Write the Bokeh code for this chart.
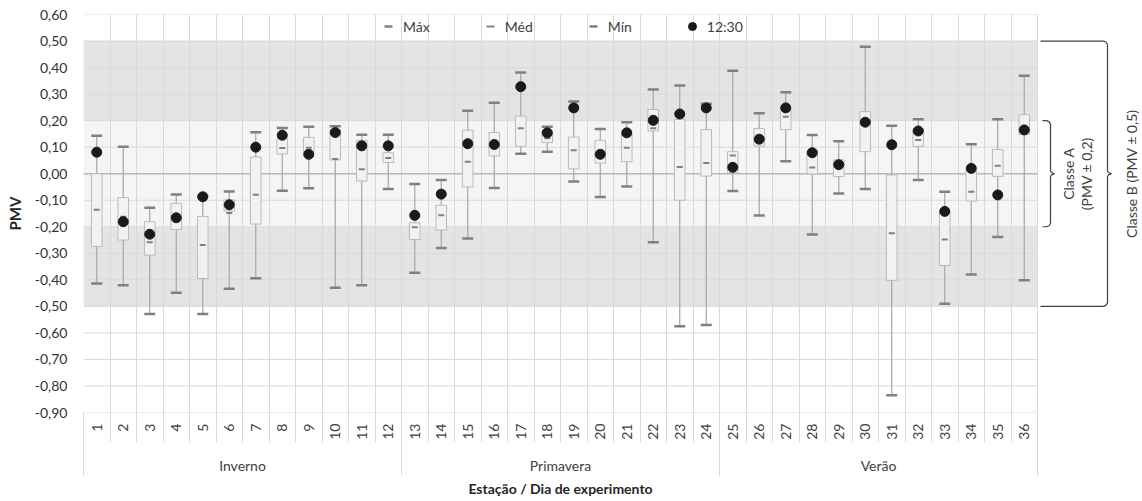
import math
from bokeh.plotting import figure
from bokeh.models import (ColumnDataSource, FixedTicker, BoxAnnotation, Legend,
                          LegendItem, Label, Range1d, LinearAxis)
from bokeh.embed import file_html
from bokeh.resources import INLINE

# ---------------- data ----------------
days = [str(i) for i in range(1, 37)]
seasons = ["Inverno", "Primavera", "Verão"]
max_v = [0.143, 0.102, -0.128, -0.078, -0.085, -0.067, 0.156, 0.172, 0.177, 0.179, 0.147, 0.147,
         -0.039, -0.024, 0.237, 0.267, 0.381, 0.177, 0.272, 0.168, 0.194, 0.317, 0.332, 0.264,
         0.388, 0.228, 0.307, 0.146, 0.122, 0.478, 0.181, 0.205, -0.068, 0.111, 0.205, 0.369]
q3_v = [0.000, -0.090, -0.181, -0.112, -0.161, -0.099, 0.063, 0.132, 0.137, 0.165, 0.126, 0.079,
        -0.185, -0.119, 0.164, 0.155, 0.217, 0.160, 0.138, 0.126, 0.149, 0.242, 0.205, 0.166,
        0.083, 0.170, 0.237, 0.085, 0.052, 0.234, -0.005, 0.170, -0.145, 0.010, 0.091, 0.222]
med_v = [-0.136, -0.162, -0.258, -0.160, -0.269, -0.148, -0.079, 0.097, 0.098, 0.055, 0.017, 0.059,
         -0.202, -0.157, 0.045, 0.110, 0.171, 0.134, 0.088, 0.075, 0.098, 0.171, 0.025, 0.040,
         0.069, 0.130, 0.215, 0.023, 0.030, 0.200, -0.224, 0.127, -0.248, -0.068, 0.030, 0.155]
q1_v = [-0.274, -0.250, -0.307, -0.210, -0.395, -0.140, -0.190, 0.074, 0.083, 0.052, -0.028, 0.042,
        -0.248, -0.212, -0.050, 0.067, 0.103, 0.117, 0.018, 0.040, 0.045, 0.161, -0.100, -0.009,
        0.003, 0.104, 0.166, -0.001, -0.011, 0.083, -0.402, 0.103, -0.346, -0.103, -0.010, 0.148]
min_v = [-0.414, -0.420, -0.529, -0.449, -0.529, -0.434, -0.394, -0.064, -0.055, -0.430, -0.420, -0.058,
         -0.373, -0.280, -0.244, -0.054, 0.075, 0.083, -0.029, -0.088, -0.048, -0.258, -0.575, -0.570,
         -0.065, -0.158, 0.047, -0.229, -0.075, -0.058, -0.835, -0.024, -0.490, -0.380, -0.239, -0.402]
v1230 = [0.081, -0.181, -0.228, -0.166, -0.087, -0.117, 0.100, 0.145, 0.073, 0.155, 0.105, 0.105,
         -0.157, -0.077, 0.113, 0.110, 0.328, 0.154, 0.248, 0.073, 0.154, 0.201, 0.225, 0.248,
         0.024, 0.130, 0.248, 0.079, 0.034, 0.194, 0.109, 0.161, -0.142, 0.020, -0.080, 0.165]
ytick_vals = [-0.9, -0.8, -0.7, -0.6, -0.5, -0.4, -0.3, -0.2, -0.1, 0.0, 0.1, 0.2, 0.3, 0.4, 0.5, 0.6]
ytick_labels = ["-0,90", "-0,80", "-0,70", "-0,60", "-0,50", "-0,40", "-0,30", "-0,20", "-0,10",
                "0,00", "0,10", "0,20", "0,30", "0,40", "0,50", "0,60"]
legend_labels = ["Máx", "Méd", "Mín", "12:30"]
x_title = "Estação / Dia de experimento"
class_a = ["Classe A", "(PMV ± 0,2)"]
class_b = "Classe B (PMV ± 0,5)"

# ---------------- layout ----------------
W, H = 1142, 501
FL, FR, FT, FB = 83, 1037, 14, 412        # plot area of the 36 days (px)
X0, X1 = 0.5, 36.5
Y0, Y1 = -0.9, 0.6
FONT = "Lato"
TXT = "#404040"
GRID = "#d9d9d9"


def px2x(px):
    return X0 + (px - FL) / (FR - FL) * (X1 - X0)


def px2y(py):
    return Y1 - (py - FT) / (FB - FT) * (Y1 - Y0)


def ypx(v):
    return FT + (Y1 - v) / (Y1 - Y0) * (FB - FT)


xs = list(range(1, 37))
src = ColumnDataSource(dict(x=xs, mx=max_v, q3=q3_v, med=med_v, q1=q1_v, mn=min_v, v=v1230))

# frame extended to the right edge so that the class braces can be drawn
p = figure(width=W, height=H, x_range=Range1d(X0, px2x(W)), y_range=Range1d(Y0, Y1),
           output_backend="svg", toolbar_location=None,
           min_border_left=FL, min_border_right=0, min_border_top=FT, min_border_bottom=H - FB)
p.outline_line_color = None
p.background_fill_color = "white"
p.border_fill_color = "white"

# comfort bands
p.add_layout(BoxAnnotation(left=X0, right=X1, bottom=0.2, top=0.5, fill_color="#e4e4e4", fill_alpha=1,
                           line_color=None, level="image"))
p.add_layout(BoxAnnotation(left=X0, right=X1, bottom=-0.5, top=-0.2, fill_color="#e4e4e4", fill_alpha=1,
                           line_color=None, level="image"))
p.add_layout(BoxAnnotation(left=X0, right=X1, bottom=-0.2, top=0.2, fill_color="#f5f5f5", fill_alpha=1,
                           line_color=None, level="image"))

# grids
p.xgrid.ticker = FixedTicker(ticks=[i + 0.5 for i in range(37)])
p.xgrid.grid_line_color = GRID
p.ygrid.grid_line_color = None
p.segment(x0=[X0] * len(ytick_vals), x1=[X1] * len(ytick_vals), y0=ytick_vals, y1=ytick_vals,
          line_color=GRID, line_width=1)
p.segment(x0=[X0], x1=[X1], y0=[0.0], y1=[0.0], line_color="#b8b8b8", line_width=1.5)

# box plot
p.segment(x0="x", y0="mn", x1="x", y1="mx", source=src, line_color="#a6a6a6", line_width=1.2)
p.vbar(x="x", width=0.4, bottom="q1", top="q3", source=src, fill_color="#f2f2f2",
       line_color="#bababa", line_width=1)
r_max = p.scatter(x="x", y="mx", source=src, marker="dash", size=11, line_color="#808080", line_width=2.5)
r_min = p.scatter(x="x", y="mn", source=src, marker="dash", size=11, line_color="#808080", line_width=2.5)
r_med = p.scatter(x="x", y="med", source=src, marker="dash", size=6, line_color="#808080", line_width=2)
r_dot = p.scatter(x="x", y="v", source=src, marker="circle", size=10, fill_color="#1a1a1a", line_color="#1a1a1a")

legend = Legend(items=[LegendItem(label=legend_labels[0], renderers=[r_max]),
                       LegendItem(label=legend_labels[1], renderers=[r_med]),
                       LegendItem(label=legend_labels[2], renderers=[r_min]),
                       LegendItem(label=legend_labels[3], renderers=[r_dot])],
                orientation="horizontal", location=(295, 376), border_line_color=None,
                background_fill_alpha=0, label_text_font=FONT, label_text_font_size="14px",
                label_text_color=TXT, glyph_width=20, glyph_height=20, label_height=20,
                label_standoff=5, spacing=50, padding=3, margin=0)
p.add_layout(legend)

# y axis
p.yaxis.ticker = FixedTicker(ticks=ytick_vals)
p.yaxis.major_label_overrides = dict(zip(ytick_vals, ytick_labels))
p.yaxis.axis_line_color = None
p.yaxis.major_tick_line_color = None
p.yaxis.minor_tick_line_color = None
p.yaxis.major_tick_out = 0
p.yaxis.major_label_standoff = 16
p.yaxis.major_label_text_font = FONT
p.yaxis.major_label_text_font_size = "14px"
p.yaxis.major_label_text_color = "#333333"
p.yaxis.axis_label = "PMV"
p.yaxis.axis_label_text_font = FONT
p.yaxis.axis_label_text_font_style = "bold"
p.yaxis.axis_label_text_font_size = "15px"
p.yaxis.axis_label_text_color = "#262626"
p.yaxis.axis_label_standoff = 8

# x axis 1: day numbers, separators as minor ticks
p.xaxis.ticker = FixedTicker(ticks=xs, minor_ticks=[i + 0.5 for i in range(37)])
p.xaxis.major_label_overrides = {i: d for i, d in zip(xs, days)}
p.xaxis.major_label_orientation = math.pi / 2
p.xaxis.major_tick_line_color = None
p.xaxis.major_tick_out = 0
p.xaxis.major_tick_in = 0
p.xaxis.minor_tick_out = 30
p.xaxis.minor_tick_in = 0
p.xaxis.minor_tick_line_color = GRID
p.xaxis.axis_line_color = None
p.xaxis.major_label_standoff = -19
p.xaxis.major_label_text_font = FONT
p.xaxis.major_label_text_font_size = "14px"
p.xaxis.major_label_text_color = TXT

# x axis 2: seasons
season_ticks = [6.5, 18.5, 30.5]
ax2 = LinearAxis(ticker=FixedTicker(ticks=season_ticks, minor_ticks=[0.5, 12.5, 24.5, 36.5]),
                 major_label_overrides=dict(zip(season_ticks, seasons)),
                 axis_line_color=None, major_tick_line_color=None, major_tick_out=0, major_tick_in=0,
                 minor_tick_out=33, minor_tick_in=0, minor_tick_line_color=GRID,
                 major_label_standoff=-19, major_label_text_font=FONT, major_label_text_font_size="14px",
                 major_label_text_color=TXT)
p.add_layout(ax2, "below")

# x axis 3: title
ax3 = LinearAxis(ticker=FixedTicker(ticks=[18.5], minor_ticks=[]),
                 major_label_overrides={18.5: x_title},
                 axis_line_color=None, major_tick_line_color=None, major_tick_out=0, major_tick_in=0,
                 minor_tick_line_color=None, major_label_standoff=3, major_label_text_font=FONT,
                 major_label_text_font_size="14px", major_label_text_font_style="bold",
                 major_label_text_color="#262626")
p.add_layout(ax3, "below")


# class braces (drawn in the right part of the frame)
def brace(xl, xv, xt, yt, yb):
    ym = (yt + yb) / 2
    pts = [(xl, yt), (xv - 4, yt), (xv - 1.5, yt + 1), (xv, yt + 3.5), (xv, ym - 3), (xv + 1, ym - 1.2),
           (xt, ym), (xv + 1, ym + 1.2), (xv, ym + 3), (xv, yb - 3.5), (xv - 1.5, yb - 1), (xv - 4, yb), (xl, yb)]
    return [px2x(a) for a, _ in pts], [px2y(b) for _, b in pts]


bx, by = brace(1042, 1050, 1054, ypx(0.2), ypx(-0.2))
p.line(bx, by, line_color="#404040", line_width=1.2)
bx, by = brace(1040, 1107, 1111, ypx(0.5), ypx(-0.5))
p.line(bx, by, line_color="#404040", line_width=1.2)

p.add_layout(Label(x=px2x(1068), y=0.0, text=class_a[0], angle=math.pi / 2, text_align="center",
                   text_baseline="middle", text_font=FONT, text_font_size="14px", text_color=TXT))
p.add_layout(Label(x=px2x(1086), y=0.0, text=class_a[1], angle=math.pi / 2, text_align="center",
                   text_baseline="middle", text_font=FONT, text_font_size="14px", text_color=TXT))
p.add_layout(Label(x=px2x(1131), y=0.0, text=class_b, angle=math.pi / 2, text_align="center",
                   text_baseline="middle", text_font=FONT, text_font_size="14px", text_color=TXT))

open("out.html", "w").write(file_html(p, INLINE))
